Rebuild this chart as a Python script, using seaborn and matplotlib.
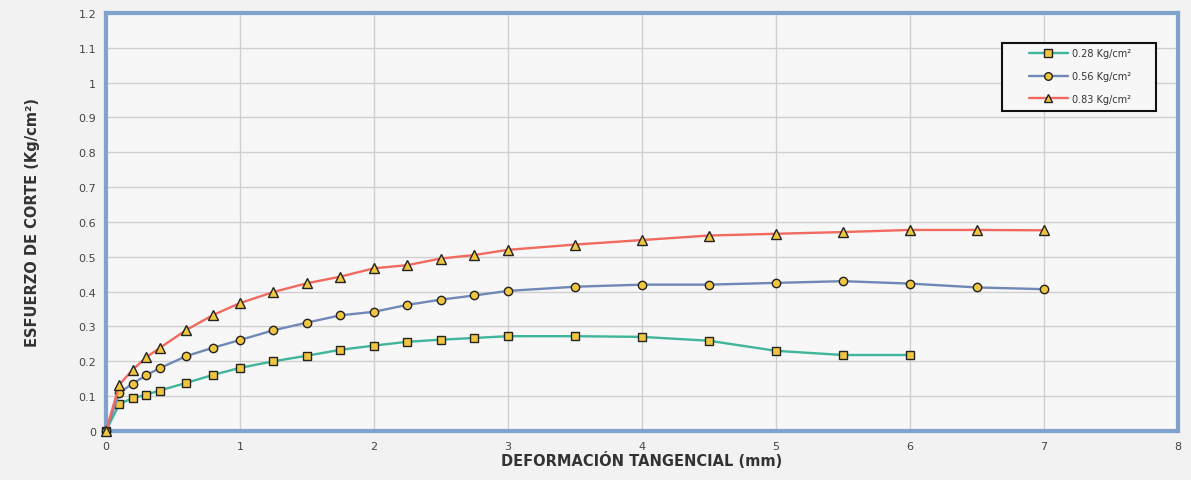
import matplotlib
matplotlib.use("Agg")
import matplotlib.pyplot as plt
from matplotlib.patches import Rectangle
import seaborn as sns
import pandas as pd

x_all = [0, 0.1, 0.2, 0.3, 0.4, 0.6, 0.8, 1.0, 1.25, 1.5, 1.75, 2.0, 2.25, 2.5,
         2.75, 3.0, 3.5, 4.0, 4.5, 5.0, 5.5, 6.0, 6.5, 7.0]

y_028 = [0, 0.078, 0.094, 0.104, 0.116, 0.138, 0.161, 0.181, 0.200, 0.216, 0.233,
         0.245, 0.256, 0.262, 0.267, 0.272, 0.272, 0.270, 0.259, 0.230, 0.218, 0.218]
y_056 = [0, 0.110, 0.136, 0.160, 0.180, 0.215, 0.239, 0.261, 0.289, 0.311, 0.332,
         0.342, 0.362, 0.377, 0.389, 0.402, 0.414, 0.420, 0.420, 0.425, 0.430,
         0.423, 0.412, 0.407]
y_083 = [0, 0.133, 0.176, 0.211, 0.238, 0.290, 0.333, 0.367, 0.399, 0.424, 0.443,
         0.467, 0.476, 0.495, 0.505, 0.520, 0.535, 0.548, 0.561, 0.566, 0.571,
         0.577, 0.577, 0.576]

labels = ["0.28 Kg/cm²", "0.56 Kg/cm²", "0.83 Kg/cm²"]
x_ticks = [0, 1, 2, 3, 4, 5, 6, 7, 8]
y_ticks = [0, 0.1, 0.2, 0.3, 0.4, 0.5, 0.6, 0.7, 0.8, 0.9, 1.0, 1.1, 1.2]
y_ticklabels = ["0", "0.1", "0.2", "0.3", "0.4", "0.5", "0.6", "0.7", "0.8",
                "0.9", "1", "1.1", "1.2"]

line_colors = ["#3fb59b", "#7088b8", "#f06a60"]
markers = ["s", "o", "^"]
marker_face = "#f0c640"

frames = []
for lab, ys in zip(labels, [y_028, y_056, y_083]):
    frames.append(pd.DataFrame({"x": x_all[:len(ys)], "y": ys, "serie": lab}))
df = pd.concat(frames, ignore_index=True)

sns.set_style("white")
plt.rcParams["font.family"] = ["DejaVu Sans"]

fig = plt.figure(figsize=(11.91, 4.81), dpi=100)
fig.patch.set_facecolor("#f2f2f2")
ax = fig.add_axes([0.089, 0.102, 0.900, 0.869])
ax.set_facecolor("#f7f7f7")

for lab, col, mk in zip(labels, line_colors, markers):
    sub = df[df["serie"] == lab]
    sns.lineplot(data=sub, x="x", y="y", ax=ax, color=col, linewidth=1.7,
                 marker=mk, markersize=6 if mk != "^" else 6.5,
                 markerfacecolor=marker_face, markeredgecolor="#222222",
                 markeredgewidth=1.0, label=lab, sort=False, clip_on=False,
                 zorder=5)

ax.set_xlim(0, 8)
ax.set_ylim(0, 1.2)
ax.set_xticks(x_ticks)
ax.set_xticklabels([str(t) for t in x_ticks])
ax.set_yticks(y_ticks)
ax.set_yticklabels(y_ticklabels)
ax.tick_params(axis="both", labelsize=8, colors="#444444", length=0, pad=7)
ax.grid(True, color="#cfcfcf", linewidth=1.0)
ax.set_axisbelow(True)

for s in ax.spines.values():
    s.set_color("#7fa3cc")
    s.set_linewidth(3)
    s.set_visible(True)
    s.set_zorder(2)

ax.set_xlabel("DEFORMACIÓN TANGENCIAL (mm)", fontsize=10.5, fontweight="bold",
              color="#333333", labelpad=0)
ax.set_ylabel("ESFUERZO DE CORTE (Kg/cm²)", fontsize=10.5, fontweight="bold",
              color="#333333", labelpad=28)

# legend frame box
ax.add_patch(Rectangle((0.836, 0.766), 0.144, 0.162, transform=ax.transAxes,
                       facecolor="#f7f7f7", edgecolor="#111111", linewidth=1.5,
                       zorder=8))
leg = ax.legend(loc="upper left", bbox_to_anchor=(0.861, 0.915), fontsize=7,
                frameon=False, borderpad=0, labelspacing=1.3,
                handlelength=4.0, handletextpad=0.4, borderaxespad=0)
leg.set_zorder(9)
for h in leg.legend_handles:
    h.set_markersize(5.5)
    h.set_linewidth(1.7)
for t in leg.get_texts():
    t.set_color("#333333")

fig.savefig("out.png", dpi=100, facecolor=fig.get_facecolor())
